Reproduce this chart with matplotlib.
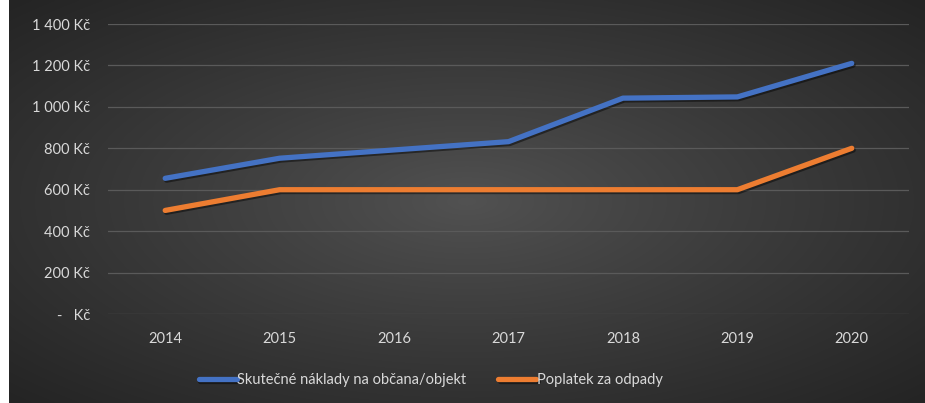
import numpy as np
import matplotlib
matplotlib.use("Agg")
import matplotlib.pyplot as plt
import matplotlib.patheffects as pe
from matplotlib.ticker import FuncFormatter

years = ["2014", "2015", "2016", "2017", "2018", "2019", "2020"]
naklady = [655, 752, 792, 832, 1042, 1048, 1210]
poplatek = [500, 600, 600, 600, 600, 600, 800]
series_names = ["Skutečné náklady na občana/objekt", "Poplatek za odpady"]
colors = ["#4472C4", "#ED7D31"]
yticks = [0, 200, 400, 600, 800, 1000, 1200, 1400]

plt.rcParams['font.family'] = ['Lato', 'DejaVu Sans']

W, H = 925, 403
fig = plt.figure(figsize=(W / 100, H / 100), dpi=100)
fig.patch.set_facecolor("white")

# radial gradient background
bg = fig.add_axes([9 / W, 0, 1 - 9 / W, 1])
bg.set_axis_off()
nx, ny = 460, 200
xx, yy = np.meshgrid(np.linspace(-1, 1, nx), np.linspace(-1, 1, ny))
r = np.sqrt(xx ** 2 + yy ** 2) / np.sqrt(2)
c_in = np.array([0x52, 0x52, 0x52]) / 255
c_out = np.array([0x24, 0x24, 0x24]) / 255
t = np.clip(r, 0, 1)[..., None] ** 0.9
img = c_in * (1 - t) + c_out * t
bg.imshow(img, aspect="auto", extent=[0, 1, 0, 1], interpolation="bilinear")
bg.set_xlim(0, 1)
bg.set_ylim(0, 1)

ax = fig.add_axes([108 / W, (H - 314) / H, (909 - 108) / W, (314 - 24) / H])
ax.set_facecolor("none")
x = np.arange(len(years))
for vals, name, col in zip([naklady, poplatek], series_names, colors):
    ax.plot(x, vals, color=col, lw=3.8, solid_capstyle="round", solid_joinstyle="round",
            label=name,
            path_effects=[pe.SimpleLineShadow(offset=(1.0, -1.3), shadow_color="black", alpha=0.45),
                          pe.Normal()])

ax.set_xlim(-0.5, len(years) - 0.5)
ax.set_ylim(0, 1400)
ax.set_yticks(yticks)

def fmt(v, pos):
    v = int(round(v))
    if v == 0:
        return "-   Kč"
    s = f"{v:,}".replace(",", " ")
    return f"{s} Kč"

ax.yaxis.set_major_formatter(FuncFormatter(fmt))
ax.set_xticks(x)
ax.set_xticklabels(years)
ax.grid(axis="y", color="#5a5a5a", lw=0.9)
ax.set_axisbelow(True)
for s in ax.spines.values():
    s.set_visible(False)
ax.tick_params(axis="both", length=0, colors="#d9d9d9", labelsize=10.5)
ax.tick_params(axis="y", pad=13)
ax.tick_params(axis="x", pad=13)

leg = ax.legend(loc="center", bbox_to_anchor=(0.403, -0.228), ncol=2, frameon=False,
                fontsize=10.5, labelcolor="#d9d9d9", handlelength=2.6, handletextpad=0.05,
                columnspacing=2.2)

fig.savefig("out.png", dpi=100, facecolor=fig.get_facecolor())
